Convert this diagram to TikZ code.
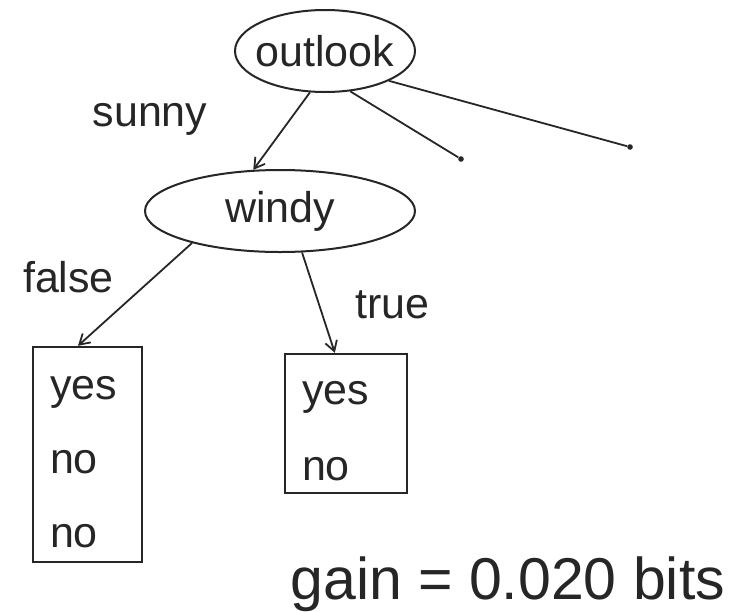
\documentclass[tikz,border=0pt]{standalone}
\usepackage{fontspec}
\setmainfont{Liberation Sans}
\usetikzlibrary{shapes.geometric,arrows.meta}
\definecolor{treeink}{HTML}{262626}
\newcommand{\leafpad}{\rule{0pt}{19.5pt}}

\begin{document}
\begin{tikzpicture}[x=0.5pt, y=-0.5pt,
  every node/.style={text=treeink},
  testnode/.style={draw=treeink, ellipse, line width=1pt, inner sep=0pt,
    font=\fontsize{21.5}{26}\selectfont},
  leafbox/.style={draw=treeink, rectangle, line width=1.2pt, align=left,
    inner xsep=8.5pt, inner ysep=0pt},
  edgelabel/.style={anchor=base, font=\fontsize{21.5}{26}\selectfont},
  branch/.style={draw=treeink, line width=0.9pt, -{Straight Barb[length=5pt, width=6pt]}},
  stub/.style={draw=treeink, line width=0.9pt},
  stubend/.style={circle, fill=treeink, inner sep=0pt, minimum size=2.8pt}]
  \useasboundingbox (0,0) rectangle (747,611);

  \node[testnode, minimum width=90pt, minimum height=41pt, inner xsep=-3pt]
    (outlook) at (325,51) {outlook};
  \node[testnode, minimum width=135pt, minimum height=41pt]
    (windy) at (280,211) {windy};
  \node[stubend] (stubmid) at (461,159) {};
  \node[stubend] (stubright) at (630,147) {};

  \node[leafbox, text width=37.5pt, minimum height=107.5pt,
    font=\fontsize{21.5}{37}\selectfont]
    (leftleaf) at (87.5,454.5) {\leafpad yes\\no\\no};
  \node[leafbox, text width=44pt, minimum height=69.5pt,
    font=\fontsize{21.5}{38}\selectfont]
    (rightleaf) at (346,423.5) {\leafpad yes\\no};

  \node[edgelabel] (sunny) at (150,126) {sunny};
  \node[edgelabel] (false) at (68.5,292) {false};
  \node[edgelabel] (true) at (392.5,318) {true};
  \node[anchor=base west, inner sep=0pt, font=\fontsize{29.5}{35}\selectfont]
    (gain) at (290,599) {gain = 0.020 bits};

  \draw[branch] (outlook.250) -- (windy.123);
  \draw[stub] (outlook.302) -- (stubmid);
  \draw[stub] (outlook.335) -- (stubright);
  \draw[branch] (windy.200) -- (leftleaf.95);
  \draw[branch] (windy.298) -- (rightleaf.99);
\end{tikzpicture}
\end{document}
